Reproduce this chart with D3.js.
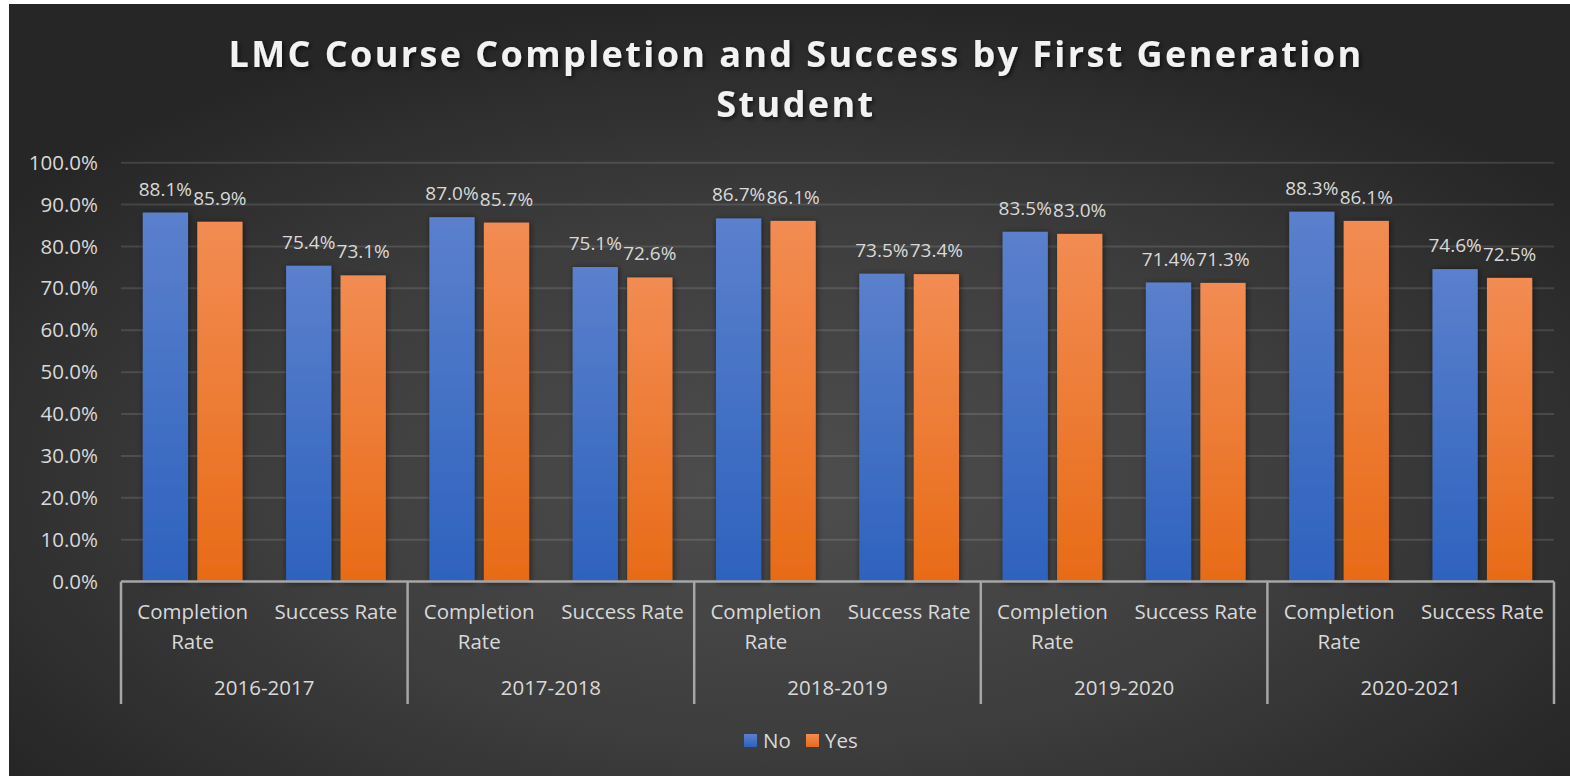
<!DOCTYPE html>
<html>
<head>
<meta charset="utf-8">
<script src="https://cdn.jsdelivr.net/npm/d3@7"></script>
<style>
  html, body { margin: 0; padding: 0; background: #fff; }
  svg { display: block; }
  text { font-family: "Open Sans", "Noto Sans", sans-serif; }
</style>
</head>
<body>
<div class="visHolder"></div>
<script>
const w = 1570, h = 776;

// data
const years = ['2016-2017', '2017-2018', '2018-2019', '2019-2020', '2020-2021'];
const metrics = ['Completion Rate', 'Success Rate'];
const seriesNames = ['No', 'Yes'];
const noValues  = [88.1, 75.4, 87.0, 75.1, 86.7, 73.5, 83.5, 71.4, 88.3, 74.6];
const yesValues = [85.9, 73.1, 85.7, 72.6, 86.1, 73.4, 83.0, 71.3, 86.1, 72.5];
const yTicks = [0, 10, 20, 30, 40, 50, 60, 70, 80, 90, 100];

const rows = [];
years.forEach((y, i) => metrics.forEach((m, j) => {
  const k = i * 2 + j;
  rows.push({year: y, metric: m, No: noValues[k], Yes: yesValues[k]});
}));

const plotLeft = 121, plotRight = 1554, plotTop = 162.7, plotBottom = 581.6;

const svg = d3.select('.visHolder')
  .append('svg')
  .attr('width', w)
  .attr('height', h);

const defs = svg.append('defs');
const bg = defs.append('radialGradient').attr('id', 'bg')
  .attr('cx', '50%').attr('cy', '62%').attr('r', '62%');
bg.append('stop').attr('offset', '0%').attr('stop-color', '#4e4e4e');
bg.append('stop').attr('offset', '55%').attr('stop-color', '#3d3d3d');
bg.append('stop').attr('offset', '100%').attr('stop-color', '#262626');

const grads = {No: ['#5b80cc', '#2e62be'], Yes: ['#f28c53', '#e86b17']};
Object.keys(grads).forEach(k => {
  const g = defs.append('linearGradient').attr('id', 'g' + k)
    .attr('x1', 0).attr('y1', 0).attr('x2', 0).attr('y2', 1);
  g.append('stop').attr('offset', '0%').attr('stop-color', grads[k][0]);
  g.append('stop').attr('offset', '100%').attr('stop-color', grads[k][1]);
});

const shadow = defs.append('filter').attr('id', 'shadow')
  .attr('x', '-30%').attr('y', '-10%').attr('width', '160%').attr('height', '120%');
shadow.append('feDropShadow').attr('dx', 1).attr('dy', 1)
  .attr('stdDeviation', 3).attr('flood-color', '#000').attr('flood-opacity', 0.55);

const tshadow = defs.append('filter').attr('id', 'tshadow');
tshadow.append('feDropShadow').attr('dx', 2).attr('dy', 2)
  .attr('stdDeviation', 2).attr('flood-color', '#000').attr('flood-opacity', 0.6);

svg.append('rect')
  .attr('x', 9).attr('y', 4)
  .attr('width', w - 9).attr('height', h - 4)
  .attr('fill', 'url(#bg)');

// title
const title = svg.append('text')
  .attr('text-anchor', 'middle')
  .attr('fill', '#f2f2f2')
  .attr('font-weight', 'bold')
  .attr('font-size', 36)
  .attr('letter-spacing', 2.4)
  .attr('filter', 'url(#tshadow)');
title.append('tspan').attr('x', 796).attr('y', 67)
  .text('LMC Course Completion and Success by First Generation');
title.append('tspan').attr('x', 796).attr('y', 117).text('Student');

// scales
const x0 = d3.scaleBand().domain(years).range([plotLeft, plotRight]);
const x1 = d3.scaleBand().domain(metrics).range([0, x0.bandwidth()]);
const x2 = d3.scaleBand().domain(seriesNames).range([0, x1.bandwidth()])
  .paddingInner(0.17).paddingOuter(0.4);
const yScale = d3.scaleLinear().domain([0, 100]).range([plotBottom, plotTop]);

// gridlines
svg.append('g')
  .selectAll('line')
  .data(yTicks.slice(1))
  .enter()
  .append('line')
  .attr('x1', plotLeft).attr('x2', plotRight)
  .attr('y1', d => yScale(d)).attr('y2', d => yScale(d))
  .attr('stroke', 'rgba(255,255,255,0.12)')
  .attr('stroke-width', 2);

// y axis
const yAxis = d3.axisLeft(yScale).tickValues(yTicks)
  .tickFormat(d => d3.format('.1f')(d) + '%').tickSize(0).tickPadding(0);
const yg = svg.append('g')
  .attr('id', 'y-axis')
  .attr('transform', `translate(98, 0)`)
  .call(yAxis);
yg.select('.domain').remove();
yg.selectAll('text')
  .attr('fill', '#d9d9d9')
  .attr('font-size', 20.5)
  .attr('font-family', '"Open Sans", sans-serif');

// bars
const groups = svg.append('g').selectAll('g')
  .data(rows)
  .enter()
  .append('g')
  .attr('transform', d => `translate(${x0(d.year) + x1(d.metric)}, 0)`);

groups.selectAll('rect')
  .data(d => seriesNames.map(s => ({key: s, value: d[s]})))
  .enter()
  .append('rect')
  .attr('x', d => x2(d.key))
  .attr('y', d => yScale(d.value))
  .attr('width', x2.bandwidth())
  .attr('height', d => plotBottom - yScale(d.value))
  .attr('fill', d => `url(#g${d.key})`)
  .attr('filter', 'url(#shadow)');

groups.selectAll('text')
  .data(d => seriesNames.map(s => ({key: s, value: d[s]})))
  .enter()
  .append('text')
  .attr('x', d => x2(d.key) + x2.bandwidth() / 2)
  .attr('y', d => yScale(d.value) - 17)
  .attr('text-anchor', 'middle')
  .attr('fill', '#d9d9d9')
  .attr('font-size', 19)
  .text(d => d.value.toFixed(1) + '%');

// category axis
const axis = svg.append('g').attr('id', 'x-axis');
axis.append('line')
  .attr('x1', plotLeft).attr('x2', plotRight)
  .attr('y1', plotBottom).attr('y2', plotBottom)
  .attr('stroke', '#a6a6a6').attr('stroke-width', 2.5);
axis.selectAll('.sep')
  .data(years.map(y => x0(y)).concat([plotRight]))
  .enter()
  .append('line')
  .attr('class', 'sep')
  .attr('x1', d => d).attr('x2', d => d)
  .attr('y1', plotBottom).attr('y2', 704)
  .attr('stroke', '#a6a6a6').attr('stroke-width', 2.5);

rows.forEach(d => {
  const cx = x0(d.year) + x1(d.metric) + x1.bandwidth() / 2;
  const t = axis.append('text')
    .attr('text-anchor', 'middle')
    .attr('fill', '#d9d9d9')
    .attr('font-size', 20.5);
  if (d.metric === 'Completion Rate') {
    t.append('tspan').attr('x', cx).attr('y', 619).text('Completion');
    t.append('tspan').attr('x', cx).attr('y', 649).text('Rate');
  } else {
    t.append('tspan').attr('x', cx).attr('y', 619).text(d.metric);
  }
});

axis.selectAll('.year')
  .data(years)
  .enter()
  .append('text')
  .attr('class', 'year')
  .attr('x', d => x0(d) + x0.bandwidth() / 2)
  .attr('y', 695)
  .attr('text-anchor', 'middle')
  .attr('fill', '#d9d9d9')
  .attr('font-size', 20.5)
  .text(d => d);

// legend
const legendX = [744, 806];
const legend = svg.append('g').attr('id', 'legend')
  .selectAll('g')
  .data(seriesNames)
  .enter()
  .append('g')
  .attr('transform', (d, i) => `translate(${legendX[i]}, 734)`);
legend.append('rect')
  .attr('width', 13).attr('height', 13)
  .attr('fill', d => `url(#g${d})`);
legend.append('text')
  .attr('x', 19).attr('y', 14)
  .attr('fill', '#d9d9d9')
  .attr('font-size', 20.5)
  .text(d => d);
</script>
</body>
</html>
